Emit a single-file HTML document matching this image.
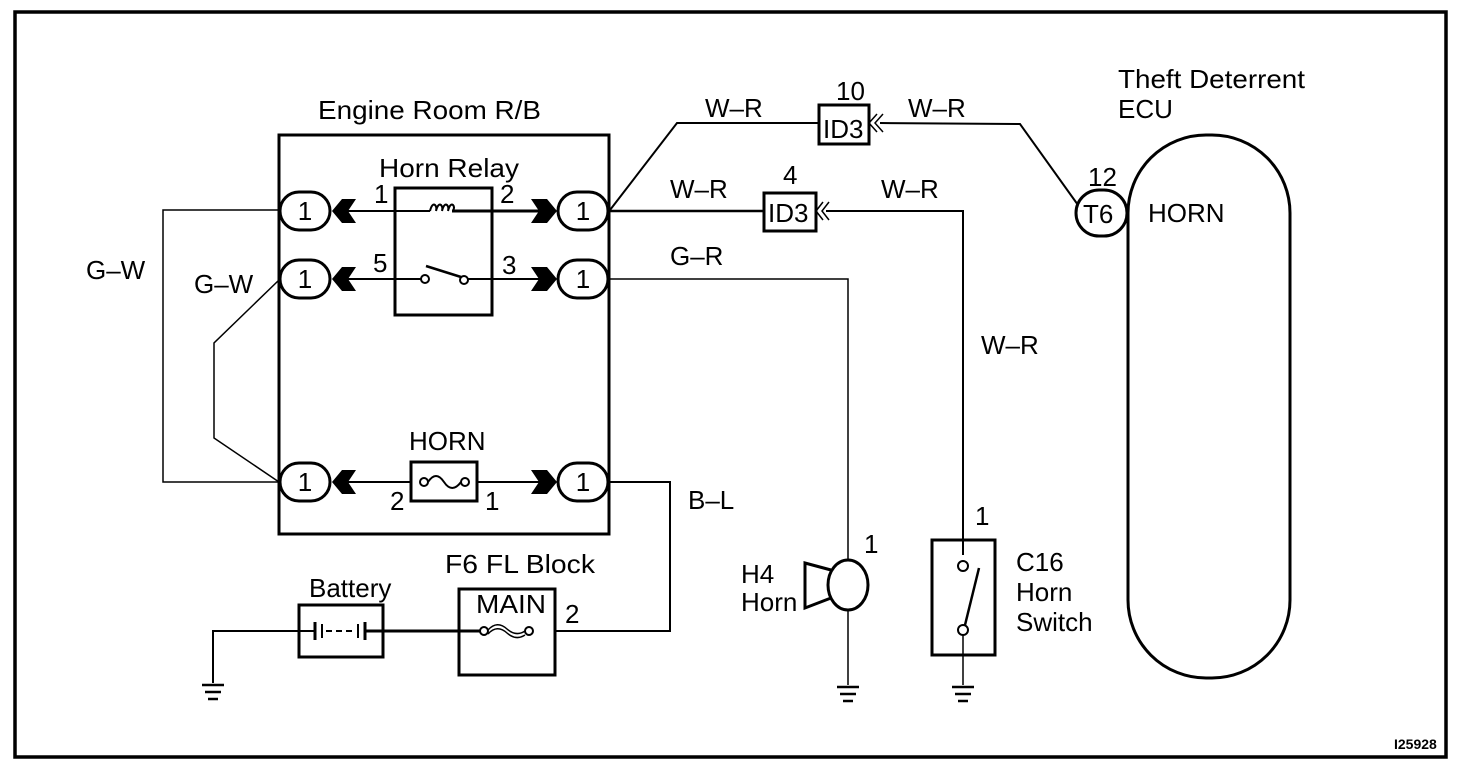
<!DOCTYPE html>
<html><head><meta charset="utf-8"><style>
html,body{margin:0;padding:0;background:#fff;}
svg{display:block;}
text{font-family:"Liberation Sans",Arial,sans-serif;fill:#000;}
</style></head><body>
<svg width="1472" height="772" viewBox="0 0 1472 772" xmlns="http://www.w3.org/2000/svg">
<rect width="1472" height="772" fill="#fff"/>
<rect x="15" y="12" width="1431" height="745" fill="none" stroke="#000" stroke-width="3.5"/>
<g fill="none" stroke="#000" stroke-width="2">
<rect x="279" y="135" width="330" height="399" stroke-width="3"/>
<rect x="395" y="188" width="97" height="127" stroke-width="3"/>
<line x1="340" y1="211" x2="430" y2="211"/>
<line x1="452" y1="211" x2="545" y2="211" stroke-width="3"/>
<path d="M430 211 q2 -8 5 -6 q2 2 1 6 q2 -8 5 -6 q2 2 1 6 q2 -8 5 -6 q2 2 1 6 q2 -8 5 -6 q2 2 0 6" stroke-width="2"/>
<line x1="340" y1="279" x2="421" y2="279"/>
<line x1="468" y1="279" x2="545" y2="279"/>
<circle cx="425" cy="279" r="4" fill="#fff"/>
<circle cx="464" cy="280" r="4" fill="#fff"/>
<line x1="426" y1="266" x2="461" y2="277" stroke-width="2.5"/>
<line x1="340" y1="482" x2="545" y2="482"/>
<rect x="411" y="462" width="66" height="39" fill="#fff" stroke-width="3"/>
<circle cx="424" cy="482" r="4" fill="#fff"/>
<circle cx="465" cy="482" r="4" fill="#fff"/>
<path d="M428 482 q8 -12 16 0 q8 12 17 0" stroke-width="2"/>
<rect x="280" y="192" width="50" height="38" rx="19" fill="#fff" stroke-width="3"/>
<rect x="280" y="260" width="50" height="38" rx="19" fill="#fff" stroke-width="3"/>
<rect x="280" y="463" width="50" height="38" rx="19" fill="#fff" stroke-width="3"/>
<rect x="558" y="192" width="50" height="38" rx="19" fill="#fff" stroke-width="3"/>
<rect x="558" y="260" width="50" height="38" rx="19" fill="#fff" stroke-width="3"/>
<rect x="558" y="463" width="50" height="38" rx="19" fill="#fff" stroke-width="3"/>
<polyline points="279,210 163,210 163,482 279,482" stroke-width="1.5"/>
<polyline points="279,280 214,343 214,438 279,482" stroke-width="1.5"/>
<polyline points="610,210 677,123 818,123" stroke-width="2"/>
<rect x="819" y="105" width="50" height="39" fill="#fff" stroke-width="3"/>
<polyline points="880,123 1020,124 1078,205" stroke-width="2"/>
<line x1="610" y1="211" x2="764" y2="211" stroke-width="2.5"/>
<rect x="764" y="193" width="52" height="38" fill="#fff" stroke-width="3"/>
<polyline points="826,211 963,211 963,555" stroke-width="2"/>
<path d="M877 114 l-8 9 l8 9 M883 114 l-8 9 l8 9" stroke-width="1.5"/>
<path d="M823 202 l-7 9 l7 9 M829 202 l-7 9 l7 9" stroke-width="1.5"/>
<polyline points="610,279 848,279 848,560" stroke-width="1.5"/>
<ellipse cx="848" cy="585" rx="20" ry="25" fill="#fff" stroke-width="3"/>
<polyline points="831,570 805,563 805,608 831,598" stroke-width="3"/>
<line x1="848" y1="610" x2="848" y2="685" stroke-width="1.5"/>
<rect x="932" y="540" width="63" height="115" stroke-width="3"/>
<circle cx="963" cy="566" r="5" fill="#fff"/>
<circle cx="963" cy="630" r="5" fill="#fff"/>
<line x1="979" y1="568" x2="965" y2="625" stroke-width="2.5"/>
<line x1="963" y1="635" x2="963" y2="685" stroke-width="1.5"/>
<rect x="1076" y="190" width="51" height="46" rx="23" fill="#fff" stroke-width="3"/>
<rect x="1128" y="135" width="162" height="543" rx="78" ry="78" stroke-width="3"/>
<polyline points="610,482 670,482 670,631 555,631" stroke-width="2"/>
<rect x="459" y="589" width="96" height="86" stroke-width="3"/>
<line x1="383" y1="631" x2="488" y2="631" stroke-width="3"/>
<circle cx="484" cy="631" r="4" fill="#fff"/>
<circle cx="529" cy="631" r="4" fill="#fff"/>
<path d="M488 630 q9 -10 19 -1 q9 8 18 2 M488 634 q9 -10 19 -1 q9 8 18 2" stroke-width="1.5"/>
<rect x="299" y="605" width="84" height="52" stroke-width="3"/>
<polyline points="213,683 213,631 315,631" stroke-width="2"/>
<line x1="315" y1="622" x2="315" y2="640" stroke-width="3"/>
<line x1="322" y1="624" x2="322" y2="638" stroke-width="2"/>
<line x1="326" y1="631" x2="356" y2="631" stroke-dasharray="6 4"/>
<line x1="358" y1="624" x2="358" y2="638" stroke-width="2"/>
<line x1="365" y1="622" x2="365" y2="640" stroke-width="3"/>
<line x1="365" y1="631" x2="383" y2="631" stroke-width="3"/>
<g stroke-width="2.5">
<line x1="202" y1="685" x2="224" y2="685"/><line x1="205" y1="692" x2="221" y2="692"/><line x1="208" y1="699" x2="218" y2="699"/>
<line x1="837" y1="687" x2="859" y2="687"/><line x1="840" y1="694" x2="856" y2="694"/><line x1="843" y1="701" x2="853" y2="701"/>
<line x1="952" y1="687" x2="974" y2="687"/><line x1="955" y1="694" x2="971" y2="694"/><line x1="958" y1="701" x2="968" y2="701"/>
</g>
</g>
<g fill="#000">
<path d="M332 211 l10 -12 h14 l-8 12 l8 12 h-14 z"/>
<path d="M332 279 l10 -12 h14 l-8 12 l8 12 h-14 z"/>
<path d="M332 482 l10 -12 h14 l-8 12 l8 12 h-14 z"/>
<path d="M557 211 l-10 -12 h-16 l8 12 l-8 12 h16 z"/>
<path d="M557 279 l-10 -12 h-16 l8 12 l-8 12 h16 z"/>
<path d="M557 482 l-10 -12 h-16 l8 12 l-8 12 h16 z"/>
</g>
<g font-size="26">
<text x="318" y="119" textLength="223" lengthAdjust="spacingAndGlyphs">Engine Room R/B</text>
<text x="379" y="177" textLength="140" lengthAdjust="spacingAndGlyphs">Horn Relay</text>
<text x="1118" y="88" textLength="187" lengthAdjust="spacingAndGlyphs">Theft Deterrent</text>
<text x="1118" y="118">ECU</text>
<text x="1148" y="222">HORN</text>
<text x="409" y="450">HORN</text>
<text x="445" y="573" textLength="150" lengthAdjust="spacingAndGlyphs">F6 FL Block</text>
<text x="309" y="597">Battery</text>
<text x="476" y="613" textLength="70" lengthAdjust="spacingAndGlyphs">MAIN</text>
<text x="86" y="279">G–W</text>
<text x="194" y="293">G–W</text>
<text x="705" y="117">W–R</text>
<text x="908" y="117">W–R</text>
<text x="670" y="198">W–R</text>
<text x="881" y="198">W–R</text>
<text x="670" y="265">G–R</text>
<text x="981" y="354">W–R</text>
<text x="688" y="509">B–L</text>
<text x="741" y="583">H4</text>
<text x="741" y="611">Horn</text>
<text x="1016" y="571">C16</text>
<text x="1016" y="601">Horn</text>
<text x="1016" y="631">Switch</text>
<text x="823" y="138">ID3</text>
<text x="768" y="222">ID3</text>
<text x="1083" y="223">T6</text>
<text x="836" y="100">10</text>
<text x="783" y="184">4</text>
<text x="1088" y="186">12</text>
<text x="374" y="203">1</text>
<text x="500" y="203">2</text>
<text x="373" y="272">5</text>
<text x="502" y="274">3</text>
<text x="390" y="510">2</text>
<text x="485" y="510">1</text>
<text x="565" y="623">2</text>
<text x="864" y="553">1</text>
<text x="975" y="525">1</text>
<g text-anchor="middle">
<text x="305" y="220">1</text><text x="305" y="288">1</text><text x="305" y="491">1</text>
<text x="583" y="220">1</text><text x="583" y="288">1</text><text x="583" y="491">1</text>
</g>
</g>
<text x="1394" y="749" font-size="14" font-weight="bold">I25928</text>
</svg>
</body></html>
